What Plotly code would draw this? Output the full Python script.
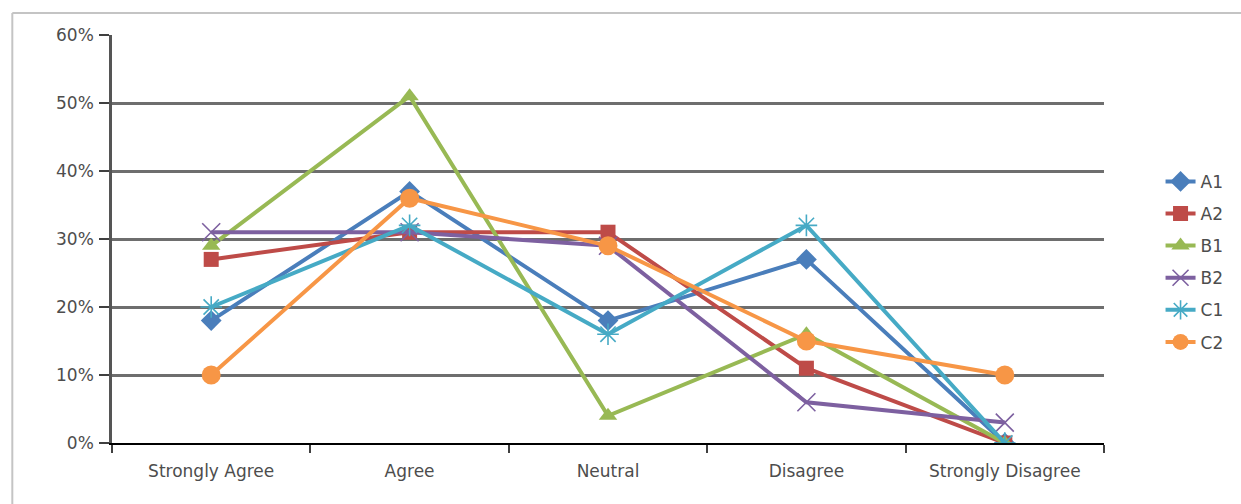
import plotly.graph_objects as go

# Survey responses per group, as share of respondents
categories = ["Strongly Agree", "Agree", "Neutral", "Disagree", "Strongly Disagree"]
series_names = ["A1", "A2", "B1", "B2", "C1", "C2"]
a1 = [0.18, 0.37, 0.18, 0.27, 0.00]
a2 = [0.27, 0.31, 0.31, 0.11, 0.00]
b1 = [0.29, 0.51, 0.04, 0.16, 0.00]
b2 = [0.31, 0.31, 0.29, 0.06, 0.03]
c1 = [0.20, 0.32, 0.16, 0.32, 0.00]
c2 = [0.10, 0.36, 0.29, 0.15, 0.10]
series_values = [a1, a2, b1, b2, c1, c2]

colors = ["#4A7EBB", "#BE4B48", "#98B954", "#7D60A0", "#46AAC5", "#F79646"]
symbols = ["diamond", "square", "triangle-up", "x-thin-open", "asterisk-open", "circle"]
sizes = [16, 15, 16, 18, 18, 19]

fig = go.Figure()
for name, vals, col, sym, sz in zip(series_names, series_values, colors, symbols, sizes):
    fig.add_trace(go.Scatter(
        x=categories, y=vals, name=name, legendgroup=name, mode="lines+markers",
        line=dict(color=col, width=4),
        marker=dict(symbol=sym, size=sz, color=col,
                    line=dict(color=col, width=1.6 if "open" in sym else 0)),
    ))

W, H = 1241, 504
ml, mr, mt, mb = 112, 134, 35, 61
pw, ph = W - ml - mr, H - mt - mb

def px_x(p):
    return (p - ml) / pw

def px_y(p):
    return (H - mb - p) / ph

# outer chart frame (top and left edges visible)
frame = dict(color="#C4C4C4", width=2)
fig.add_shape(type="line", xref="paper", yref="paper",
              x0=px_x(12), x1=px_x(1250), y0=px_y(13), y1=px_y(13), line=frame)
fig.add_shape(type="line", xref="paper", yref="paper",
              x0=px_x(12), x1=px_x(12), y0=px_y(13), y1=px_y(510), line=frame)

font_family = "DejaVu Sans, Verdana, sans-serif"
text_color = "#4D4D4D"
fig.update_layout(
    width=W, height=H,
    margin=dict(l=ml, r=mr, t=mt, b=mb),
    paper_bgcolor="white", plot_bgcolor="white",
    font=dict(family=font_family, size=17, color=text_color),
    showlegend=True,
    legend=dict(x=1.057, y=0.444, xanchor="left", yanchor="middle",
                font=dict(size=17, color=text_color),
                traceorder="grouped", tracegroupgap=7,
                itemwidth=30, bgcolor="rgba(0,0,0,0)"),
    xaxis=dict(type="category", range=[-0.5, 4.5], tickson="boundaries",
               ticks="outside", ticklen=8, tickwidth=1.5, tickcolor="#404040",
               ticklabelstandoff=12,
               showline=True, linecolor="#000000", linewidth=2,
               showgrid=False, tickfont=dict(size=17, color=text_color)),
    yaxis=dict(range=[0, 0.6], dtick=0.1, tickformat=".0%",
               ticks="outside", ticklen=10, tickwidth=1.5, tickcolor="#404040",
               ticklabelstandoff=2,
               showline=True, linecolor="#555555", linewidth=2.5,
               showgrid=True, gridcolor="#6E6E6E", gridwidth=2.5,
               zeroline=False, tickfont=dict(size=17, color=text_color)),
)

fig.write_html("out.html")
